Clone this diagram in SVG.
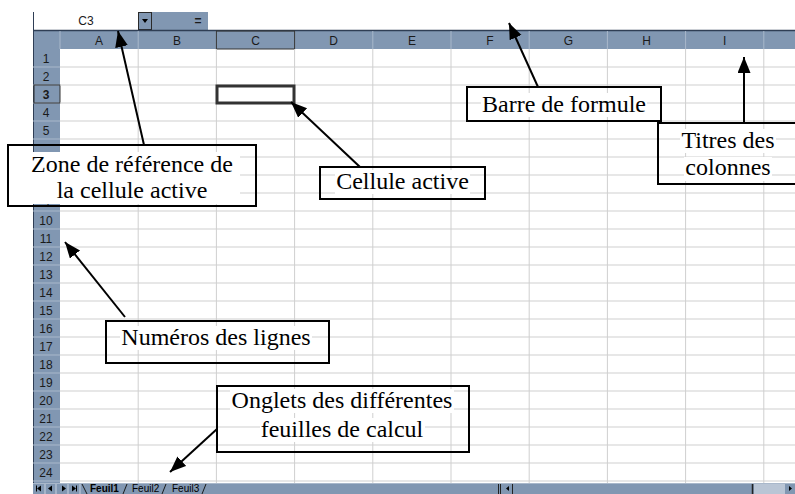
<svg xmlns="http://www.w3.org/2000/svg" width="795" height="494" viewBox="0 0 795 494">
<style>
.hdr{fill:#8197b2}
.grid{stroke:#cfcfcf;stroke-width:1}
.sep{stroke:#a9b8cb;stroke-width:1}
.hl{font-family:"Liberation Sans",Arial,sans-serif;font-size:12px;fill:#1a1a1a;text-anchor:middle}
.rn{font-family:"Liberation Sans",Arial,sans-serif;font-size:12px;fill:#1a1a1a;text-anchor:middle}
.box{fill:none;stroke:#000;stroke-width:2}
.lbl{font-family:"Liberation Serif","Times New Roman",Times,"DejaVu Serif",serif;font-size:24px;fill:#000;text-anchor:middle}
.bg{fill:#fff}
.con{stroke:#000;stroke-width:2;fill:none;marker-end:url(#ah)}
.tab{font-family:"Liberation Sans",Arial,sans-serif;font-size:10px;fill:#000}
</style>
<defs>
<marker id="ah" markerUnits="userSpaceOnUse" markerWidth="17" markerHeight="14" refX="16" refY="6.5" orient="auto">
<path d="M0,0 L16,6.5 L0,13 z" fill="#000"/>
</marker>
</defs>
<rect x="0" y="0" width="795" height="494" fill="#fff"/>
<g id="namebox">
<rect x="33" y="12" width="105" height="18" fill="#fff"/>
<line x1="33.5" y1="12" x2="33.5" y2="30" stroke="#2f3e55"/>
<text x="86" y="25" class="hl" font-size="11">C3</text>
<rect x="138.5" y="12.5" width="13" height="17" fill="#8197b2" stroke="#2a2a2a"/>
<path d="M142,19 L148,19 L145,23 z" fill="#000"/>
<rect x="152" y="12" width="56" height="18" class="hdr"/>
<text x="198" y="25" class="hl" font-weight="bold">=</text>
</g>
<g id="colheaders">
<rect x="33" y="30" width="762" height="19" class="hdr"/>
<line x1="33" y1="30.5" x2="795" y2="30.5" stroke="#2f3e55" stroke-width="1.5"/>
<g class="sep">
<line x1="60" y1="31" x2="60" y2="49"/>
<line x1="138.2" y1="31" x2="138.2" y2="49"/>
<line x1="216.4" y1="31" x2="216.4" y2="49"/>
<line x1="294.6" y1="31" x2="294.6" y2="49"/>
<line x1="372.8" y1="31" x2="372.8" y2="49"/>
<line x1="451" y1="31" x2="451" y2="49"/>
<line x1="529.2" y1="31" x2="529.2" y2="49"/>
<line x1="607.4" y1="31" x2="607.4" y2="49"/>
<line x1="685.6" y1="31" x2="685.6" y2="49"/>
<line x1="763.8" y1="31" x2="763.8" y2="49"/>
</g>
<rect x="216.4" y="31" width="78.2" height="18" fill="none" stroke="#333" stroke-width="1"/>
<text x="99" y="45" class="hl">A</text>
<text x="177" y="45" class="hl">B</text>
<text x="255.5" y="45" class="hl">C</text>
<text x="333.7" y="45" class="hl">D</text>
<text x="412" y="45" class="hl">E</text>
<text x="490" y="45" class="hl">F</text>
<text x="568.3" y="45" class="hl">G</text>
<text x="646.5" y="45" class="hl">H</text>
<text x="724.7" y="45" class="hl">I</text>
</g>
<g id="rowheaders">
<rect x="33" y="49" width="27" height="434" class="hdr"/>
<line x1="33.5" y1="30" x2="33.5" y2="494" stroke="#2f3e55"/>
<g class="sep">
<line x1="33" y1="67" x2="60" y2="67"/><line x1="33" y1="85" x2="60" y2="85"/><line x1="33" y1="103" x2="60" y2="103"/><line x1="33" y1="121" x2="60" y2="121"/><line x1="33" y1="139" x2="60" y2="139"/><line x1="33" y1="157" x2="60" y2="157"/><line x1="33" y1="175" x2="60" y2="175"/><line x1="33" y1="193" x2="60" y2="193"/><line x1="33" y1="211" x2="60" y2="211"/><line x1="33" y1="229" x2="60" y2="229"/><line x1="33" y1="247" x2="60" y2="247"/><line x1="33" y1="265" x2="60" y2="265"/><line x1="33" y1="283" x2="60" y2="283"/><line x1="33" y1="301" x2="60" y2="301"/><line x1="33" y1="319" x2="60" y2="319"/><line x1="33" y1="337" x2="60" y2="337"/><line x1="33" y1="355" x2="60" y2="355"/><line x1="33" y1="373" x2="60" y2="373"/><line x1="33" y1="391" x2="60" y2="391"/><line x1="33" y1="409" x2="60" y2="409"/><line x1="33" y1="427" x2="60" y2="427"/><line x1="33" y1="445" x2="60" y2="445"/><line x1="33" y1="463" x2="60" y2="463"/><line x1="33" y1="481" x2="60" y2="481"/>
</g>
<rect x="34" y="85" width="26" height="18" fill="none" stroke="#333" stroke-width="1"/>
<text x="46" y="63" class="rn">1</text>
<text x="46" y="81" class="rn">2</text>
<text x="46" y="99" class="rn" font-weight="bold">3</text>
<text x="46" y="117" class="rn">4</text>
<text x="46" y="135" class="rn">5</text>
<text x="46" y="207" class="rn">9</text>
<text x="46" y="225" class="rn">10</text>
<text x="46" y="243" class="rn">11</text>
<text x="46" y="261" class="rn">12</text>
<text x="46" y="279" class="rn">13</text>
<text x="46" y="297" class="rn">14</text>
<text x="46" y="315" class="rn">15</text>
<text x="46" y="333" class="rn">16</text>
<text x="46" y="351" class="rn">17</text>
<text x="46" y="369" class="rn">18</text>
<text x="46" y="387" class="rn">19</text>
<text x="46" y="405" class="rn">20</text>
<text x="46" y="423" class="rn">21</text>
<text x="46" y="441" class="rn">22</text>
<text x="46" y="459" class="rn">23</text>
<text x="46" y="477" class="rn">24</text>
</g>
<g id="grid" class="grid">
<line x1="138.2" y1="49" x2="138.2" y2="483"/>
<line x1="216.4" y1="49" x2="216.4" y2="483"/>
<line x1="294.6" y1="49" x2="294.6" y2="483"/>
<line x1="372.8" y1="49" x2="372.8" y2="483"/>
<line x1="451" y1="49" x2="451" y2="483"/>
<line x1="529.2" y1="49" x2="529.2" y2="483"/>
<line x1="607.4" y1="49" x2="607.4" y2="483"/>
<line x1="685.6" y1="49" x2="685.6" y2="483"/>
<line x1="763.8" y1="49" x2="763.8" y2="483"/>
<line x1="60" y1="67" x2="795" y2="67"/><line x1="60" y1="85" x2="795" y2="85"/><line x1="60" y1="103" x2="795" y2="103"/><line x1="60" y1="121" x2="795" y2="121"/><line x1="60" y1="139" x2="795" y2="139"/><line x1="60" y1="157" x2="795" y2="157"/><line x1="60" y1="175" x2="795" y2="175"/><line x1="60" y1="193" x2="795" y2="193"/><line x1="60" y1="211" x2="795" y2="211"/><line x1="60" y1="229" x2="795" y2="229"/><line x1="60" y1="247" x2="795" y2="247"/><line x1="60" y1="265" x2="795" y2="265"/><line x1="60" y1="283" x2="795" y2="283"/><line x1="60" y1="301" x2="795" y2="301"/><line x1="60" y1="319" x2="795" y2="319"/><line x1="60" y1="337" x2="795" y2="337"/><line x1="60" y1="355" x2="795" y2="355"/><line x1="60" y1="373" x2="795" y2="373"/><line x1="60" y1="391" x2="795" y2="391"/><line x1="60" y1="409" x2="795" y2="409"/><line x1="60" y1="427" x2="795" y2="427"/><line x1="60" y1="445" x2="795" y2="445"/><line x1="60" y1="463" x2="795" y2="463"/><line x1="60" y1="481" x2="795" y2="481"/>
</g>
<rect id="activecell" x="217" y="86" width="77" height="17" fill="none" stroke="#333" stroke-width="3"/>
<g id="tabbar">
<rect x="33" y="483" width="762" height="11" class="hdr"/>
<line x1="33" y1="483.5" x2="795" y2="483.5" stroke="#a9b8cb"/>
<g fill="#000">
<path d="M37,488.5 L41,485.5 L41,491.5 z"/><rect x="36" y="485.5" width="1" height="6"/>
<path d="M48,488.5 L52,485.5 L52,491.5 z"/>
<path d="M62,485.5 L66,488.5 L62,491.5 z"/>
<path d="M72,485.5 L76,488.5 L72,491.5 z"/><rect x="76" y="485.5" width="1" height="6"/>
</g>
<g stroke="#c8d2df" stroke-width="1">
<line x1="45" y1="484" x2="45" y2="494"/><line x1="56" y1="484" x2="56" y2="494"/><line x1="68" y1="484" x2="68" y2="494"/><line x1="80" y1="484" x2="80" y2="494"/>
</g>
<path d="M82,484 L87,494 M123,494 L127,484 M162,494 L166,484 M202,494 L206,484" stroke="#1a1a1a" stroke-width="1"/>
<text x="90" y="492" class="tab" font-weight="bold" font-size="10.5">Feuil1</text>
<text x="132" y="492" class="tab">Feuil2</text>
<text x="172" y="492" class="tab">Feuil3</text>
<line x1="498.5" y1="484" x2="498.5" y2="494" stroke="#222"/>
<line x1="500.5" y1="484" x2="500.5" y2="494" stroke="#222"/>
<path d="M506,488.5 L509,486 L509,491 z" fill="#000"/>
<line x1="512.5" y1="484" x2="512.5" y2="494" stroke="#222"/>
<line x1="752.5" y1="484" x2="752.5" y2="494" stroke="#222" stroke-width="1.5"/>
<rect x="754" y="484" width="31" height="10" fill="#b9c5d5"/>
<path d="M789,486 L792,488.5 L789,491 z" fill="#000"/>
</g>
<g id="connectors">
<line class="con" x1="144" y1="145" x2="118" y2="31"/>
<line class="con" x1="538" y1="87" x2="509" y2="23"/>
<line class="con" x1="744" y1="123" x2="744" y2="57"/>
<line class="con" x1="360" y1="167" x2="291" y2="102"/>
<line class="con" x1="125" y1="317" x2="65" y2="242"/>
<line class="con" x1="217" y1="429" x2="170" y2="472"/>
</g>
<g id="zone-ref">
<rect class="bg" x="9" y="152" width="231" height="52"/>
<rect class="box" x="8" y="145" width="248" height="61"/>
<text class="lbl" x="132" y="172">Zone de référence de</text>
<text class="lbl" x="132" y="198">la cellule active</text>
</g>
<g id="barre-formule">
<rect class="bg" x="481" y="93" width="166" height="24"/>
<rect class="box" x="467" y="87" width="194" height="34"/>
<text class="lbl" x="564" y="112">Barre de formule</text>
</g>
<g id="titres-colonnes">
<rect class="bg" x="680" y="129" width="96" height="24"/>
<rect class="bg" x="684" y="157" width="88" height="24"/>
<rect class="box" x="658" y="123" width="142" height="61"/>
<text class="lbl" x="728" y="148">Titres des</text>
<text class="lbl" x="728" y="175">colonnes</text>
</g>
<g id="cellule-active">
<rect class="bg" x="335" y="170" width="135" height="24"/>
<rect class="box" x="320" y="167" width="165" height="32"/>
<text class="lbl" x="402.5" y="189">Cellule active</text>
</g>
<g id="numeros-lignes">
<rect class="bg" x="120" y="326" width="192" height="24"/>
<rect class="box" x="106" y="321" width="223" height="42"/>
<text class="lbl" x="216" y="345">Numéros des lignes</text>
</g>
<g id="onglets">
<rect class="bg" x="230" y="389" width="224" height="24"/>
<rect class="bg" x="260" y="418" width="165" height="24"/>
<rect class="box" x="217" y="386" width="252" height="66"/>
<text class="lbl" x="342" y="408">Onglets des différentes</text>
<text class="lbl" x="342" y="437">feuilles de calcul</text>
</g>
</svg>
